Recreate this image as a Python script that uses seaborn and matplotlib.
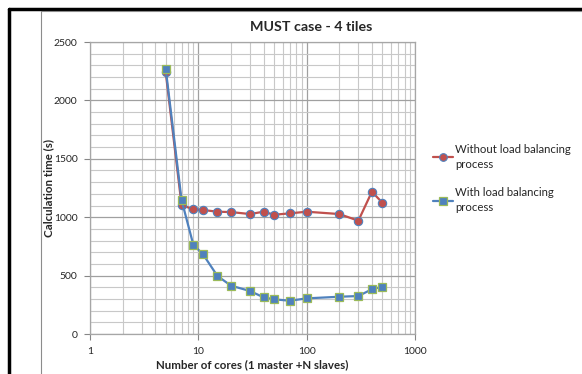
import matplotlib
matplotlib.use("Agg")
import matplotlib.pyplot as plt
from matplotlib.lines import Line2D
from matplotlib.ticker import LogLocator, FixedLocator, MultipleLocator, NullFormatter
import seaborn as sns
import pandas as pd

cores = [5, 7, 9, 11, 15, 20, 30, 40, 50, 70, 100, 200, 300, 400, 500]
time_without_lb = [2240, 1105, 1067, 1062, 1047, 1044, 1027, 1047, 1021, 1033, 1047, 1027, 970, 1218, 1124]
time_with_lb = [2270, 1147, 762, 685, 497, 414, 368, 314, 297, 285, 305, 319, 325, 383, 405]
labels = ["Without load balancing\nprocess", "With load balancing\nprocess"]

sns.set_style("white")
plt.rcParams['font.family'] = ['Lato', 'DejaVu Sans']

fig = plt.figure(figsize=(5.82, 3.74), dpi=100)
ax = fig.add_axes([90 / 582, 40 / 374, 325 / 582, 292 / 374])

df = pd.DataFrame({"cores": cores, "without": time_without_lb, "with": time_with_lb})
sns.lineplot(data=df, x="cores", y="without", ax=ax, color="#c0504d", lw=1.6,
             marker="o", markersize=6, markerfacecolor="#c0504d",
             markeredgecolor="#4f81bd", markeredgewidth=0.8, label=labels[0], legend=False)
sns.lineplot(data=df, x="cores", y="with", ax=ax, color="#4f81bd", lw=1.6,
             marker="s", markersize=6, markerfacecolor="#4f81bd",
             markeredgecolor="#9bbb59", markeredgewidth=0.9, label=labels[1], legend=False)

ax.set_xscale("log")
ax.set_xlim(1, 1000)
ax.set_ylim(0, 2500)
ax.xaxis.set_major_locator(FixedLocator([1, 10, 100, 1000]))
ax.set_xticklabels(["1", "10", "100", "1000"])
ax.xaxis.set_minor_locator(LogLocator(base=10, subs=range(2, 10)))
ax.xaxis.set_minor_formatter(NullFormatter())
ax.yaxis.set_major_locator(MultipleLocator(500))
ax.yaxis.set_minor_locator(MultipleLocator(100))

ax.grid(which="major", color="#a0a0a0", lw=0.9)
ax.grid(which="minor", color="#c8c8c8", lw=0.8)
ax.set_axisbelow(True)
for s in ax.spines.values():
    s.set_color("#a6a6a6")
    s.set_linewidth(0.9)
ax.tick_params(axis="both", which="major", length=4, width=0.8, color="#868686",
               labelsize=7.5, pad=5, direction="out", bottom=True, left=True,
               labelcolor="#262626")
ax.tick_params(axis="both", which="minor", length=0)

ax.set_xlabel("Number of cores (1 master +N slaves)", fontsize=8.3, fontweight="bold", labelpad=3)
ax.set_ylabel("Calculation time (s)", fontsize=8.3, fontweight="bold", va="center")
ax.yaxis.set_label_coords(-41 / 325, 0.5)

fig.text(311 / 582, 1 - 27 / 374, "MUST case - 4 tiles", ha="center", va="center",
         fontsize=10.3, fontweight="bold")

handles = [
    Line2D([], [], color="#c0504d", lw=1.6, marker="o", markersize=5.5,
           markerfacecolor="#c0504d", markeredgecolor="#4f81bd", markeredgewidth=0.8),
    Line2D([], [], color="#4f81bd", lw=1.6, marker="s", markersize=5.5,
           markerfacecolor="#4f81bd", markeredgecolor="#9bbb59", markeredgewidth=0.9),
]
leg = fig.legend(handles, labels, loc="upper left", bbox_to_anchor=(427 / 582, 1 - 138 / 374),
                 frameon=False, fontsize=8.2, handlelength=1.8, handletextpad=0.2,
                 labelspacing=1.55, borderpad=0)
for t in leg.get_texts():
    t.set_linespacing(1.45)
    t.set_color("#262626")

# document frame around the chart
fig.add_artist(Line2D([9 / 582, 9 / 582], [0, 1 - 9 / 374], color="black", lw=2.5,
                      transform=fig.transFigure))
fig.add_artist(Line2D([9 / 582, 1], [1 - 9 / 374, 1 - 9 / 374], color="black", lw=2.5,
                      transform=fig.transFigure))
fig.add_artist(Line2D([41 / 582, 41 / 582], [0, 1 - 11 / 374], color="#8c8c8c", lw=0.8,
                      transform=fig.transFigure))
fig.add_artist(Line2D([41 / 582, 1], [1 - 11 / 374, 1 - 11 / 374], color="#8c8c8c", lw=0.8,
                      transform=fig.transFigure))

fig.savefig("out.png", dpi=100)
